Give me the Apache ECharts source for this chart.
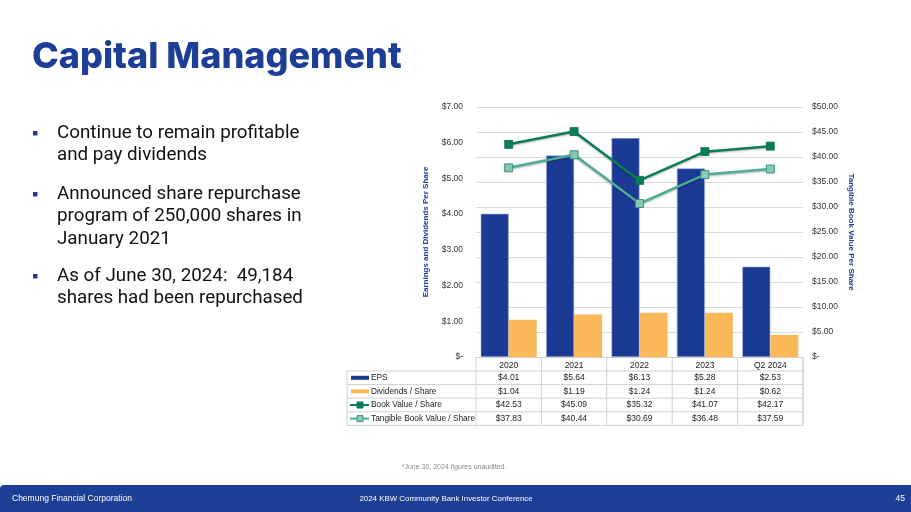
<!DOCTYPE html>
<html><head><meta charset="utf-8">
<script src="https://cdn.jsdelivr.net/npm/echarts@6/dist/echarts.min.js"></script>
<style>html,body{margin:0;padding:0;background:#fff}#c{width:911px;height:512px}</style>
</head><body><div id="c"></div>
<script>
const categories = ['2020', '2021', '2022', '2023', 'Q2 2024'];
const eps = [4.01, 5.64, 6.13, 5.28, 2.53];
const dividends = [1.04, 1.19, 1.24, 1.24, 0.62];
const bookValue = [42.53, 45.09, 35.32, 41.07, 42.17];
const tangibleBook = [37.83, 40.44, 30.69, 36.48, 37.59];
const seriesNames = ['EPS', 'Dividends / Share', 'Book Value / Share', 'Tangible Book Value / Share'];
const bullets = [
  ['Continue to remain profitable', 'and pay dividends'],
  ['Announced share repurchase', 'program of 250,000 shares in', 'January 2021'],
  ['As of June 30, 2024:  49,184', 'shares had been repurchased']
];

const C_EPS = '#1b3a94', C_DIV = '#fbb858', C_BV = '#0b7d55', C_TBV = '#4fab97';
const BLUE = '#1c3e97';
const fmt = v => v === 0 ? '$-' : '$' + v.toFixed(2);
const chart = echarts.init(document.getElementById('c'));

const option = {
  animation: false,
  textStyle: { fontFamily: 'Liberation Sans' },
  grid: { left: 476, right: 108, top: 107, bottom: 155 },
  xAxis: {
    type: 'category', data: categories,
    axisLine: { lineStyle: { color: '#d0d0d0' } },
    axisTick: { show: false },
    axisLabel: { color: '#222', fontSize: 8.5, margin: 4 }
  },
  yAxis: [{
    type: 'value', min: 0, max: 7, interval: 1,
    name: 'Earnings and Dividends Per Share', nameLocation: 'middle', nameGap: 46, nameRotate: 90,
    nameTextStyle: { color: BLUE, fontWeight: 'bold', fontSize: 8 },
    axisLabel: { formatter: fmt, color: '#333', fontSize: 8.5, margin: 13 },
    axisLine: { show: false }, axisTick: { show: false }, splitLine: { show: false }
  }, {
    type: 'value', min: 0, max: 50, interval: 5,
    name: 'Tangible Book Value Per Share', nameLocation: 'middle', nameGap: 44, nameRotate: -90,
    nameTextStyle: { color: BLUE, fontWeight: 'bold', fontSize: 8 },
    axisLabel: { formatter: fmt, color: '#333', fontSize: 8.5, margin: 9 },
    axisLine: { show: false }, axisTick: { show: false },
    splitLine: { show: true, lineStyle: { color: '#dadada' } }
  }],
  series: [
    { name: seriesNames[0], type: 'bar', data: eps, barWidth: 28, barGap: '0%',
      itemStyle: { color: C_EPS, borderColor: '#9fb0dc', borderWidth: 0.6 } },
    { name: seriesNames[1], type: 'bar', data: dividends, barWidth: 28,
      itemStyle: { color: C_DIV } },
    { name: seriesNames[2], type: 'line', yAxisIndex: 1, data: bookValue,
      symbol: 'rect', symbolSize: 8,
      lineStyle: { color: C_BV, width: 2.5, shadowColor: 'rgba(0,0,0,0.3)', shadowBlur: 2, shadowOffsetY: 1 },
      itemStyle: { color: C_BV, borderColor: '#0a6a47', borderWidth: 0.8 } },
    { name: seriesNames[3], type: 'line', yAxisIndex: 1, data: tangibleBook,
      symbol: 'rect', symbolSize: 8,
      lineStyle: { color: C_TBV, width: 2.5, shadowColor: 'rgba(0,0,0,0.3)', shadowBlur: 2, shadowOffsetY: 1 },
      itemStyle: { color: '#86c9b9', borderColor: '#3f8f7e', borderWidth: 1 } }
  ]
};
chart.setOption(option);

// build slide text + data table (positions from the category scale)
const centers = categories.map(c => chart.convertToPixel({ xAxisIndex: 0 }, c));
const band = centers[1] - centers[0];
const xL = centers[0] - band / 2, xR = centers[centers.length - 1] + band / 2;
const yTop = chart.convertToPixel({ yAxisIndex: 0 }, 0);
const tblLeft = 347, rowTop = 371, rowH = 13.6;
const g = [];
const line = (x1, y1, x2, y2) => g.push({ type: 'line', silent: true,
  shape: { x1, y1, x2, y2 }, style: { stroke: '#d0d0d0', lineWidth: 1 } });

// table borders
for (let r = 0; r <= seriesNames.length; r++) line(tblLeft, rowTop + r * rowH, xR, rowTop + r * rowH);
line(tblLeft, rowTop, tblLeft, rowTop + 4 * rowH);
for (let i = 0; i <= categories.length; i++) {
  const x = xL + i * band;
  line(x, yTop, x, rowTop + 4 * rowH);
}
line(xR, yTop, xR, rowTop + 4 * rowH);

const rows = [eps, dividends, bookValue, tangibleBook];
rows.forEach((arr, r) => {
  const cy = rowTop + r * rowH + rowH / 2;
  if (r < 2) {
    g.push({ type: 'rect', shape: { x: 351, y: cy - 2, width: 18, height: 4 },
      style: { fill: r === 0 ? C_EPS : C_DIV } });
  } else {
    const col = r === 2 ? C_BV : C_TBV;
    g.push({ type: 'line', shape: { x1: 350, y1: cy, x2: 369, y2: cy }, style: { stroke: col, lineWidth: 2 } });
    g.push({ type: 'rect', shape: { x: 357, y: cy - 3, width: 6, height: 6 },
      style: { fill: r === 2 ? C_BV : '#86c9b9', stroke: r === 2 ? C_BV : '#3f8f7e', lineWidth: 1 } });
  }
  g.push({ type: 'text', style: { text: seriesNames[r], x: 371, y: cy, fill: '#222',
    font: '8.3px "Liberation Sans"', textVerticalAlign: 'middle' } });
  arr.forEach((v, i) => g.push({ type: 'text', style: { text: fmt(v), x: centers[i], y: cy,
    fill: '#222', font: '8.5px "Liberation Sans"', textAlign: 'center', textVerticalAlign: 'middle' } }));
});

// title
g.push({ type: 'text', style: { text: 'Capital Management', x: 32, y: 57, fill: BLUE,
  font: '800 36px Inter', textVerticalAlign: 'middle' } });
// bullets
const starts = [133, 194, 276];
bullets.forEach((b, i) => {
  g.push({ type: 'rect', shape: { x: 33, y: starts[i] - 2, width: 4.5, height: 4.5 }, style: { fill: BLUE } });
  b.forEach((t, j) => g.push({ type: 'text', style: { text: t, x: 57, y: starts[i] + j * 22.5,
    fill: '#111', font: '18.8px Roboto', textVerticalAlign: 'middle' } }));
});
// note
g.push({ type: 'text', style: { text: '*June 30, 2024 figures unaudited.', x: 454, y: 467, fill: '#8a8a8a',
  font: '7px "Liberation Sans"', textAlign: 'center', textVerticalAlign: 'middle' } });
// footer
g.push({ type: 'rect', shape: { x: 0, y: 485, width: 911, height: 27, r: [4, 0, 0, 0] }, style: { fill: BLUE } });
g.push({ type: 'text', style: { text: 'Chemung Financial Corporation', x: 12, y: 498.5, fill: '#fff',
  font: '8.5px "Liberation Sans"', textVerticalAlign: 'middle' } });
g.push({ type: 'text', style: { text: '2024 KBW Community Bank Investor Conference', x: 446, y: 498.5, fill: '#fff',
  font: '7.9px "Liberation Sans"', textAlign: 'center', textVerticalAlign: 'middle' } });
g.push({ type: 'text', style: { text: '45', x: 905, y: 498.5, fill: '#fff',
  font: '8.5px "Liberation Sans"', textAlign: 'right', textVerticalAlign: 'middle' } });

chart.setOption({ graphic: g });
</script></body></html>
